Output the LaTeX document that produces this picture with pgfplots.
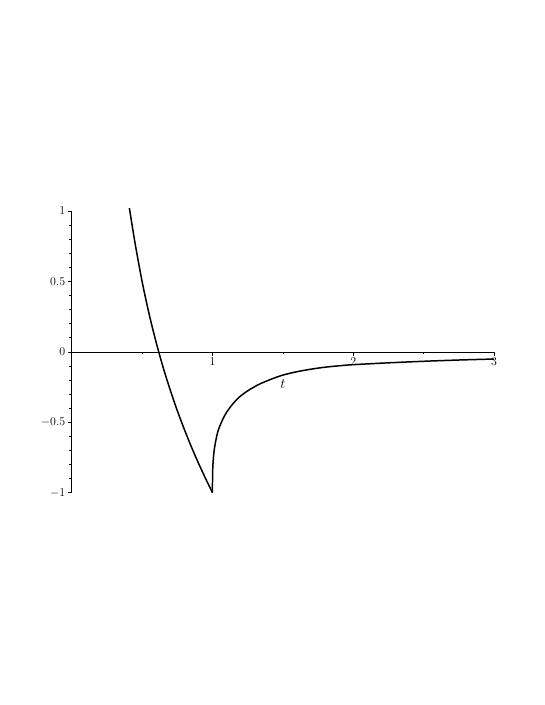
\documentclass[border=0pt]{standalone}
\usepackage{pgfplots}
\pgfplotsset{compat=1.18}
\begin{document}
\begin{tikzpicture}
\path[use as bounding box] (0,0) rectangle (545bp,705bp);
\begin{axis}[
  at={(71.7bp,212.3bp)}, anchor=south west,
  scale only axis, width=422.3bp, height=281.7bp,
  xmin=0, xmax=3, ymin=-1, ymax=1,
  axis lines=middle, axis line style={-, line width=0.6pt},
  clip=false,
  hide obscured y ticks=false, hide obscured x ticks=false,
  xtick={1,2,3}, minor xtick={0.5,1.5,2.5},
  ytick={-1,-0.5,0,0.5,1},
  minor ytick={-0.9,-0.8,-0.7,-0.6,-0.4,-0.3,-0.2,-0.1,0.1,0.2,0.3,0.4,0.6,0.7,0.8,0.9},
  tick align=outside,
  major tick length=4bp, minor tick length=2.5bp,
  tick style={line width=0.6pt, black},
  xticklabel style={font=\fontsize{13}{15}\selectfont, yshift=2bp},
  yticklabel style={font=\fontsize{13}{15}\selectfont, xshift=1bp},
  yticklabels={$-1$,$-0.5$,$0$,$0.5$,$1$},
]
\addplot[black, line width=1.5pt, smooth] coordinates {
(0.41,1.02) (0.45,0.772) (0.50,0.50) (0.55,0.268) (0.60,0.067) (0.65,-0.112)
(0.70,-0.271) (0.75,-0.417) (0.80,-0.55) (0.85,-0.674) (0.90,-0.789)
(0.95,-0.897) (1.0,-1.0)};
\addplot[black, line width=1.5pt, smooth, tension=0.5] coordinates {
(1.000,-1.0) (1.0002,-0.93) (1.0008,-0.88) (1.002,-0.83) (1.004,-0.79) (1.007,-0.75) (1.012,-0.70)
(1.02,-0.65) (1.03,-0.60) (1.04,-0.56) (1.055,-0.52) (1.075,-0.475) (1.10,-0.43)
(1.14,-0.375) (1.19,-0.322) (1.25,-0.277) (1.33,-0.231) (1.42,-0.193)
(1.50,-0.165) (1.60,-0.141) (1.70,-0.123) (1.80,-0.109) (1.90,-0.099)
(2.00,-0.091) (2.25,-0.078) (2.50,-0.067) (2.75,-0.058) (3.00,-0.051)};
\node[font=\fontsize{14}{16}\selectfont] at (axis cs:1.5,-0.23) {$t$};
\end{axis}
\end{tikzpicture}
\end{document}
